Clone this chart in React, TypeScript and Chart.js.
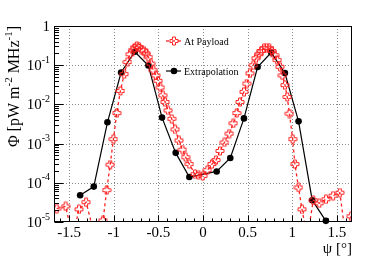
import { useEffect, useRef } from "react";
import { Chart, registerables } from "chart.js";
Chart.register(...registerables);

// ---- data ----
const payloadX = [
  -1.64, -1.54, -1.46, -1.39, -1.31, -1.21, -1.12, -1.08, -1.04, -1.004, -0.966, -0.926, -0.884,
  -0.847, -0.817, -0.79, -0.766, -0.742, -0.716, -0.69, -0.664, -0.638, -0.611, -0.585, -0.556,
  -0.529, -0.504, -0.478, -0.451, -0.425, -0.391, -0.351, -0.313, -0.27, -0.23, -0.195, -0.153,
  -0.09, -0.052, -0.003, 0.049, 0.1, 0.146, 0.19, 0.24, 0.295, 0.34, 0.377, 0.414, 0.459, 0.49,
  0.526, 0.564, 0.594, 0.624, 0.653, 0.683, 0.713, 0.743, 0.773, 0.803, 0.832, 0.862, 0.89, 0.919,
  0.944, 0.969, 1.005, 1.03, 1.07, 1.11, 1.17, 1.236, 1.303, 1.378, 1.459, 1.534, 1.6, 1.66,
];
const payloadY = [
  2.2e-5, 2.5e-5, 4e-6, 2.1e-5, 3.2e-5, 4e-6, 1.1e-5, 6.5e-5, 2.9e-4, 1.3e-3, 6e-3, 0.022, 0.059,
  0.12, 0.19, 0.24, 0.28, 0.31, 0.29, 0.25, 0.235, 0.2, 0.16, 0.11, 0.074,
  0.055, 0.04, 0.027, 0.017, 0.0115, 0.007, 0.0043, 0.0023, 1.2e-3, 7e-4, 4.5e-4, 3e-4,
  1.66e-4, 1.6e-4, 1.5e-4, 2.1e-4, 3e-4, 3.8e-4, 6.5e-4, 1.07e-3, 1.8e-3, 3.3e-3, 6e-3, 0.0115, 0.021, 0.034,
  0.062, 0.1, 0.15, 0.19, 0.23, 0.27, 0.28, 0.27, 0.23, 0.18, 0.135, 0.091, 0.055, 0.031,
  0.0155, 5.8e-3, 1.3e-3, 3e-4, 7.6e-5, 2.1e-5, 4e-6, 3.6e-5, 3e-5, 3.8e-5, 4.7e-5, 5.6e-5, 4e-6, 1.4e-5,
];
const extrapX = [
  -1.377, -1.224, -1.071, -0.918, -0.765, -0.612, -0.459, -0.306, -0.153,
  0.153, 0.306, 0.459, 0.612, 0.765, 0.918, 1.071, 1.224, 1.377,
];
const extrapY = [
  4.8e-5, 8e-5, 3.5e-3, 0.065, 0.22, 0.098, 4.6e-3, 5.8e-4, 1.4e-4,
  1.95e-4, 4.3e-4, 4.4e-3, 0.09, 0.21, 0.063, 3.7e-3, 3.6e-5, 1.07e-5,
];
const seriesLabels = ["At Payload", "Extrapolation"];
const xTickValues = [-1.5, -1, -0.5, 0, 0.5, 1, 1.5];
const xTickLabels = ["-1.5", "-1", "-0.5", "0", "0.5", "1", "1.5"];
const yTickExponents = [0, -1, -2, -3, -4, -5];
const xTitle = "ψ [°]";

const FONT = '"Liberation Serif", "DejaVu Serif", serif';

function makeCross(color: string) {
  const c = document.createElement("canvas");
  c.width = 10;
  c.height = 10;
  const g = c.getContext("2d")!;
  const cx = 5, cy = 5, a = 1.5, L = 4;
  g.beginPath();
  g.moveTo(cx - a, cy - L);
  g.lineTo(cx + a, cy - L);
  g.lineTo(cx + a, cy - a);
  g.lineTo(cx + L, cy - a);
  g.lineTo(cx + L, cy + a);
  g.lineTo(cx + a, cy + a);
  g.lineTo(cx + a, cy + L);
  g.lineTo(cx - a, cy + L);
  g.lineTo(cx - a, cy + a);
  g.lineTo(cx - L, cy + a);
  g.lineTo(cx - L, cy - a);
  g.lineTo(cx - a, cy - a);
  g.closePath();
  g.strokeStyle = color;
  g.lineWidth = 1;
  g.stroke();
  return c;
}

export default function App() {
  const ref = useRef<HTMLCanvasElement | null>(null);

  useEffect(() => {
    document.body.style.margin = "0";
    const canvas = ref.current!;
    const cross = makeCross("#ff2020");

    const rootStyle = {
      id: "rootStyle",
      beforeDatasetsDraw(chart: any) {
        const { ctx, chartArea, scales } = chart;
        const { left, right, top, bottom } = chartArea;
        ctx.save();
        ctx.strokeStyle = "#8a8a8a";
        ctx.lineWidth = 1;
        ctx.setLineDash([1, 2]);
        for (const xv of xTickValues) {
          const px = Math.round(scales.x.getPixelForValue(xv)) + 0.5;
          ctx.beginPath();
          ctx.moveTo(px, top);
          ctx.lineTo(px, bottom);
          ctx.stroke();
        }
        for (const e of yTickExponents) {
          const py = Math.round(scales.y.getPixelForValue(Math.pow(10, e))) + 0.5;
          if (py <= top + 1 || py >= bottom - 1) continue;
          ctx.beginPath();
          ctx.moveTo(left, py);
          ctx.lineTo(right, py);
          ctx.stroke();
        }
        ctx.restore();
      },
      afterDatasetsDraw(chart: any) {
        const { ctx, chartArea, scales } = chart;
        const { left, right, top, bottom } = chartArea;
        ctx.save();
        ctx.setLineDash([]);
        ctx.strokeStyle = "#000";
        ctx.lineWidth = 1;
        const L = Math.round(left) + 0.5, R = Math.round(right) - 0.5;
        const T = Math.round(top) + 0.5, B = Math.round(bottom) - 0.5;
        ctx.strokeRect(L, T, R - L, B - T);

        // x ticks
        ctx.beginPath();
        for (let i = -16; i <= 16; i++) {
          const v = i / 10;
          const px = Math.round(scales.x.getPixelForValue(v)) + 0.5;
          const major = i % 5 === 0;
          ctx.moveTo(px, B);
          ctx.lineTo(px, B - (major ? 6 : 3));
        }
        // y ticks
        for (let e = -5; e <= 0; e++) {
          const py = Math.round(scales.y.getPixelForValue(Math.pow(10, e))) + 0.5;
          ctx.moveTo(L, py);
          ctx.lineTo(L + 9, py);
          if (e < 0) {
            for (let m = 2; m <= 9; m++) {
              const pm = Math.round(scales.y.getPixelForValue(m * Math.pow(10, e))) + 0.5;
              ctx.moveTo(L, pm);
              ctx.lineTo(L + 4.5, pm);
            }
          }
        }
        ctx.stroke();

        // x labels
        ctx.fillStyle = "#000";
        ctx.font = `15px ${FONT}`;
        ctx.textAlign = "center";
        ctx.textBaseline = "middle";
        xTickValues.forEach((v, i) => {
          ctx.fillText(xTickLabels[i], scales.x.getPixelForValue(v), bottom + 11);
        });

        // y labels
        const xr = left - 4;
        for (const e of yTickExponents) {
          const py = scales.y.getPixelForValue(Math.pow(10, e));
          if (e === 0) {
            ctx.font = `15px ${FONT}`;
            ctx.textAlign = "right";
            ctx.fillText("1", xr, py + 1);
          } else {
            ctx.font = `10px ${FONT}`;
            const ex = String(e);
            const we = ctx.measureText(ex).width;
            ctx.textAlign = "left";
            ctx.fillText(ex, xr - we, py - 5);
            ctx.font = `15px ${FONT}`;
            const wb = ctx.measureText("10").width;
            ctx.fillText("10", xr - we - wb, py + 1);
          }
        }

        // x title
        ctx.font = `15px ${FONT}`;
        ctx.textAlign = "right";
        ctx.textBaseline = "middle";
        ctx.fillText(xTitle, right, bottom + 27);

        // y title (rotated, end aligned to top)
        ctx.save();
        ctx.translate(19, top);
        ctx.rotate(-Math.PI / 2);
        ctx.textAlign = "left";
        ctx.textBaseline = "alphabetic";
        const parts: [string, boolean][] = [
          ["Φ [pW m", false],
          ["-2", true],
          [" MHz", false],
          ["-1", true],
          ["]", false],
        ];
        const fontFor = (sup: boolean) => (sup ? `11px ${FONT}` : `16px ${FONT}`);
        let total = 0;
        for (const [s, sup] of parts) {
          ctx.font = fontFor(sup);
          total += ctx.measureText(s).width;
        }
        let cx = -total;
        for (const [s, sup] of parts) {
          ctx.font = fontFor(sup);
          ctx.fillText(s, cx, sup ? -7 : 0);
          cx += ctx.measureText(s).width;
        }
        ctx.restore();

        // legend
        const rows = [
          { y: 41, color: "#ff2020", dash: [3, 3], marker: "cross" },
          { y: 71, color: "#000", dash: [], marker: "circle" },
        ];
        rows.forEach((r, i) => {
          ctx.save();
          ctx.strokeStyle = r.color;
          ctx.lineWidth = i === 0 ? 1.3 : 1.2;
          ctx.setLineDash(r.dash);
          ctx.beginPath();
          ctx.moveTo(166, r.y);
          ctx.lineTo(181, r.y);
          ctx.stroke();
          ctx.setLineDash([]);
          if (r.marker === "cross") {
            ctx.drawImage(cross, 174 - 5, r.y - 5);
          } else {
            ctx.fillStyle = "#000";
            ctx.beginPath();
            ctx.arc(174, r.y, 3.3, 0, Math.PI * 2);
            ctx.fill();
          }
          ctx.fillStyle = "#000";
          ctx.font = `10px ${FONT}`;
          ctx.textAlign = "left";
          ctx.textBaseline = "middle";
          ctx.fillText(seriesLabels[i], 184, r.y + 1);
          ctx.restore();
        });

        ctx.restore();
      },
    };

    const chart = new Chart(canvas, {
      type: "scatter",
      data: {
        datasets: [
          {
            label: seriesLabels[0],
            data: payloadX.map((x, i) => ({ x, y: payloadY[i] })),
            showLine: true,
            borderColor: "#ff2020",
            backgroundColor: "#ff2020",
            borderWidth: 1.3,
            borderDash: [3, 3],
            pointStyle: cross as any,
            pointRadius: 4,
            clip: 0 as any,
          },
          {
            label: seriesLabels[1],
            data: extrapX.map((x, i) => ({ x, y: extrapY[i] })),
            showLine: true,
            borderColor: "#000",
            backgroundColor: "#000",
            borderWidth: 1.2,
            pointStyle: "circle",
            pointRadius: 3.3,
            pointBorderWidth: 0,
            clip: 4 as any,
          },
        ],
      },
      options: {
        responsive: false,
        animation: false,
        layout: { padding: { left: 54, top: 26, right: 38, bottom: 43 } },
        scales: {
          x: { type: "linear", min: -1.67, max: 1.67, display: false },
          y: { type: "logarithmic", min: 1e-5, max: 1, display: false },
        },
        plugins: { legend: { display: false }, tooltip: { enabled: false } },
      },
      plugins: [rootStyle],
    });
    return () => chart.destroy();
  }, []);

  return (
    <div style={{ width: 390, height: 265, background: "#fff" }}>
      <canvas ref={ref} width={390} height={265} style={{ display: "block" }} />
    </div>
  );
}
